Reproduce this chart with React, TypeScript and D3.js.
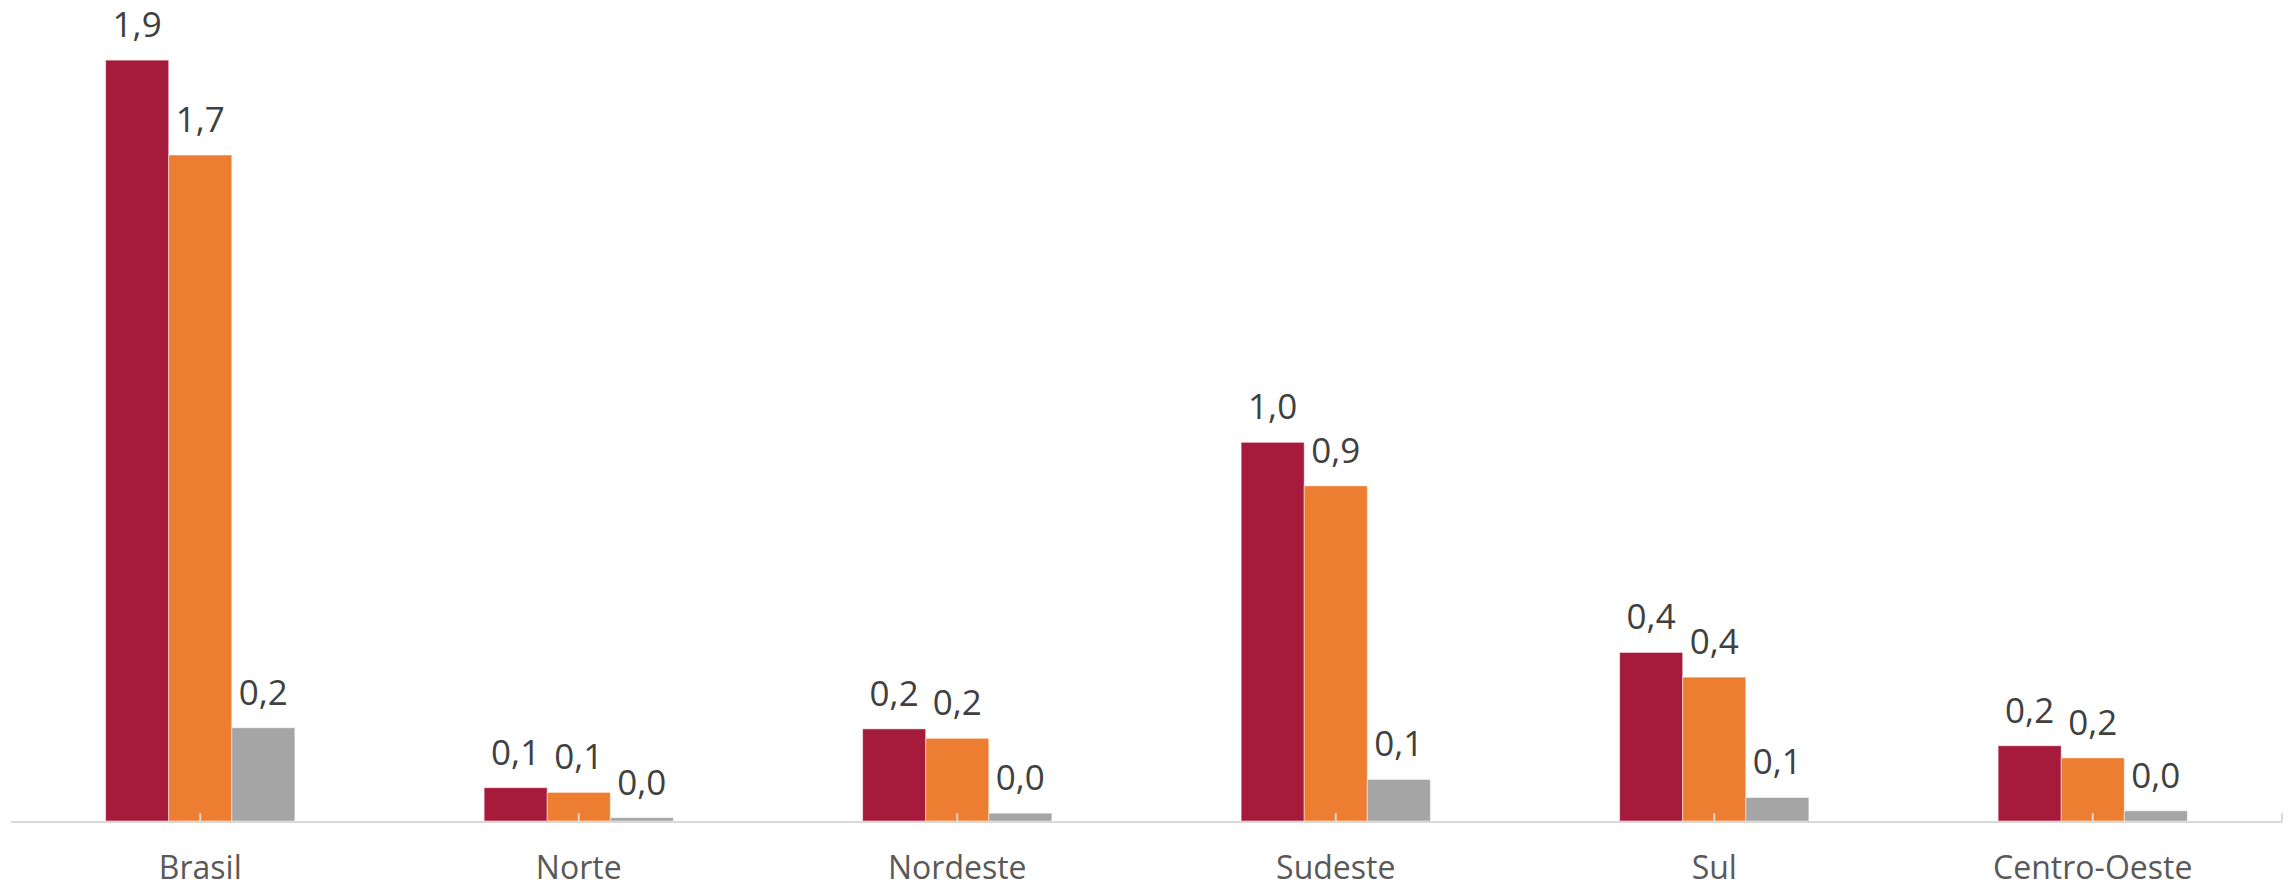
import React from "react";
import * as d3 from "d3";

const categories = ["Brasil", "Norte", "Nordeste", "Sudeste", "Sul", "Centro-Oeste"];
const seriesNames = ["Série 1", "Série 2", "Série 3"];
const serie1 = [1.941, 0.085, 0.235, 0.966, 0.43, 0.192];
const serie2 = [1.699, 0.073, 0.211, 0.855, 0.367, 0.161];
const serie3 = [0.238, 0.0085, 0.02, 0.106, 0.06, 0.026];
const seriesValues = [serie1, serie2, serie3];
const colors = ["#A61A3C", "#ED7D31", "#A5A5A5"];

const W = 2290;
const H = 888;
const baseline = 821;
const axisLeft = 11;
const axisRight = 2282;

export default function App() {
  const x = d3.scaleBand<string>().domain(categories).range([axisLeft, axisRight]).padding(0);
  const bw = x.bandwidth();
  const x1 = d3
    .scaleBand<string>()
    .domain(seriesNames)
    .range([bw / 4, (bw * 3) / 4])
    .padding(0);
  const y = d3.scaleLinear().domain([0, 2.1]).range([baseline, baseline - 2.1 * 392]);
  const fmt = (v: number) => d3.format(".1f")(v).replace(".", ",");
  const font = "'Open Sans', 'Noto Sans', sans-serif";

  return (
    <svg
      width={W}
      height={H}
      style={{ position: "absolute", left: 0, top: 0, background: "#fff" }}
      fontFamily={font}
    >
      <rect x={0} y={0} width={W} height={H} fill="#fff" />
      {categories.map((c, ci) => (
        <g key={c} transform={`translate(${x(c)},0)`}>
          {seriesNames.map((s, si) => {
            const v = seriesValues[si][ci];
            const bx = x1(s) as number;
            const top = y(v);
            return (
              <g key={s}>
                <rect
                  x={bx}
                  y={top}
                  width={x1.bandwidth()}
                  height={baseline - top}
                  fill={colors[si]}
                  stroke="#fff"
                  strokeOpacity={0.5}
                  strokeWidth={1}
                />
                <text
                  x={bx + x1.bandwidth() / 2}
                  y={top - 23}
                  textAnchor="middle"
                  fontSize={35}
                  fill="#404040"
                >
                  {fmt(v)}
                </text>
              </g>
            );
          })}
          <text x={bw / 2} y={879} textAnchor="middle" fontSize={32} fill="#595959">
            {c}
          </text>
        </g>
      ))}
      <line x1={axisLeft} x2={axisRight} y1={baseline + 1} y2={baseline + 1} stroke="#D9D9D9" strokeWidth={2} />
      {categories.map((c) => (
        <line
          key={c}
          x1={(x(c) as number) + bw / 2}
          x2={(x(c) as number) + bw / 2}
          y1={813}
          y2={baseline + 1}
          stroke="#D9D9D9"
          strokeWidth={2}
        />
      ))}
      <line x1={axisRight} x2={axisRight} y1={813} y2={baseline + 1} stroke="#D9D9D9" strokeWidth={2} />
    </svg>
  );
}
